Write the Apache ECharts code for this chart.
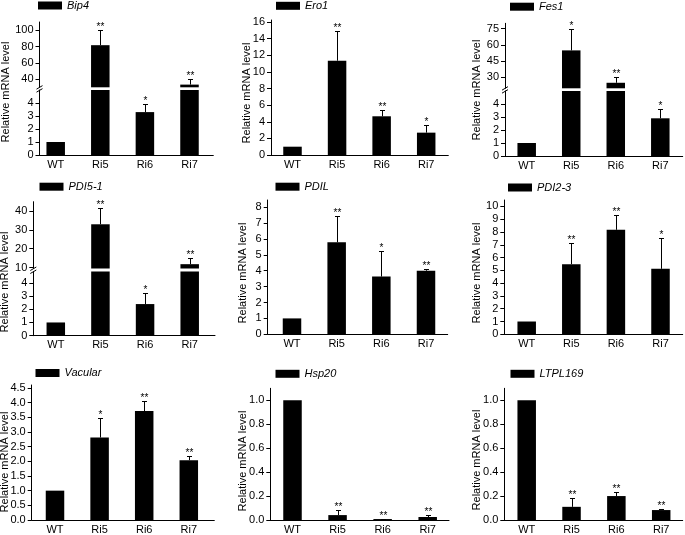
<!DOCTYPE html>
<html><head><meta charset="utf-8">
<script src="https://cdn.jsdelivr.net/npm/echarts@6/dist/echarts.min.js"></script>
<style>html,body{margin:0;padding:0;background:#fff}#c{width:685px;height:535px}</style>
</head><body><div id="c"></div>
<script>
// ---------------- DATA ----------------
const categories = ['WT', 'Ri5', 'Ri6', 'Ri7'];
const yTitle = 'Relative mRNA level';

const bip4Mean = [1, 81.6, 3.3, 33.3];
const bip4Sd   = [0, 18.4, 0.6, 7.4];
const bip4Sig  = ['', '**', '*', '**'];
const bip4UpperTicks = [40, 60, 80, 100];
const bip4LowerTicks = [0, 1, 2, 3, 4];

const ero1Mean = [1, 11.35, 4.66, 2.69];
const ero1Sd   = [0, 3.6, 0.7, 0.9];
const ero1Sig  = ['', '**', '**', '*'];
const ero1Ticks = [0, 2, 4, 6, 8, 10, 12, 14, 16];

const fes1Mean = [1, 55, 25.1, 2.9];
const fes1Sd   = [0, 20, 5.5, 0.7];
const fes1Sig  = ['', '*', '**', '*'];
const fes1UpperTicks = [30, 45, 60, 75];
const fes1LowerTicks = [0, 1, 2, 3, 4];

const pdi51Mean = [1, 33, 2.39, 11.8];
const pdi51Sd   = [0, 8.4, 0.8, 3.2];
const pdi51Sig  = ['', '**', '*', '**'];
const pdi51UpperTicks = [10, 20, 30, 40];
const pdi51LowerTicks = [0, 1, 2, 3, 4];

const pdilMean = [1, 5.79, 3.63, 4.0];
const pdilSd   = [0, 1.65, 1.61, 0.09];
const pdilSig  = ['', '**', '*', '**'];
const pdilTicks = [0, 1, 2, 3, 4, 5, 6, 7, 8];

const pdi23Mean = [1, 5.48, 8.17, 5.12];
const pdi23Sd   = [0, 1.65, 1.18, 2.4];
const pdi23Sig  = ['', '**', '**', '*'];
const pdi23Ticks = [0, 1, 2, 3, 4, 5, 6, 7, 8, 9, 10];

const vacMean = [1, 2.81, 3.71, 2.04];
const vacSd   = [0, 0.68, 0.36, 0.13];
const vacSig  = ['', '*', '**', '**'];
const vacTicks = [0, 0.5, 1, 1.5, 2, 2.5, 3, 3.5, 4, 4.5];

const hspMean = [1, 0.041, 0.008, 0.025];
const hspSd   = [0, 0.042, 0.003, 0.019];
const hspSig  = ['', '**', '**', '**'];
const hspTicks = [0, 0.2, 0.4, 0.6, 0.8, 1.0];

const ltplMean = [1, 0.11, 0.2, 0.083];
const ltplSd   = [0, 0.07, 0.035, 0.006];
const ltplSig  = ['', '**', '**', '**'];
const ltplTicks = [0, 0.2, 0.4, 0.6, 0.8, 1.0];

// ---------------- LAYOUT ----------------
const FONT = "'Liberation Sans', Arial, Helvetica, sans-serif";
const panels = [
  {gene:'Bip4', mean:bip4Mean, sd:bip4Sd, sig:bip4Sig, dec:0, L:39.5, R:213.3, c1:55.7, c4:189.5,
   segs:[{top:22, bottom:87.3, min:30, max:110, ticks:bip4UpperTicks},
         {top:90, bottom:155, min:0, max:5, ticks:bip4LowerTicks}],
   lx:38, ly:5.5, tx:6, ty:92},
  {gene:'Ero1', mean:ero1Mean, sd:ero1Sd, sig:ero1Sig, dec:0, L:271, R:448.3, c1:292.5, c4:426.2,
   segs:[{top:20, bottom:155, min:0, max:16.25, ticks:ero1Ticks}],
   lx:276, ly:5.8, tx:246.5, ty:93},
  {gene:'Fes1', mean:fes1Mean, sd:fes1Sd, sig:fes1Sig, dec:0, L:505, R:682.7, c1:526.7, c4:660.3,
   segs:[{top:23.3, bottom:88.3, min:20, max:80, ticks:fes1UpperTicks},
         {top:91, bottom:156, min:0, max:5, ticks:fes1LowerTicks}],
   lx:510, ly:6.7, tx:477, ty:90},
  {gene:'PDI5-1', mean:pdi51Mean, sd:pdi51Sd, sig:pdi51Sig, dec:0, L:33.3, R:215, c1:55.8, c4:189.7,
   segs:[{top:201.7, bottom:268.5, min:9.5, max:45, ticks:pdi51UpperTicks},
         {top:271.5, bottom:335.7, min:0, max:4.85, ticks:pdi51LowerTicks}],
   lx:39.5, ly:186.7, tx:5, ty:282},
  {gene:'PDIL', mean:pdilMean, sd:pdilSd, sig:pdilSig, dec:0, L:267.7, R:447.7, c1:292, c4:426,
   segs:[{top:200, bottom:334.3, min:0, max:8.45, ticks:pdilTicks}],
   lx:275.5, ly:186.7, tx:243, ty:273},
  {gene:'PDI2-3', mean:pdi23Mean, sd:pdi23Sd, sig:pdi23Sig, dec:0, L:504.3, R:682.7, c1:526.7, c4:660.5,
   segs:[{top:200, bottom:334.3, min:0, max:10.5, ticks:pdi23Ticks}],
   lx:508, ly:187.5, tx:477, ty:273},
  {gene:'Vacular', mean:vacMean, sd:vacSd, sig:vacSig, dec:1, L:31.7, R:214.3, c1:55, c4:188.8,
   segs:[{top:385, bottom:521.7, min:0, max:4.6, ticks:vacTicks}],
   lx:35.5, ly:373, tx:5, ty:462},
  {gene:'Hsp20', mean:hspMean, sd:hspSd, sig:hspSig, dec:1, L:270.3, R:449, c1:292.5, c4:427.7,
   segs:[{top:388.3, bottom:521.7, min:0, max:1.1, ticks:hspTicks}],
   lx:275.5, ly:373.8, tx:243, ty:461},
  {gene:'LTPL169', mean:ltplMean, sd:ltplSd, sig:ltplSig, dec:1, L:504.3, R:682.7, c1:526.7, c4:661.2,
   segs:[{top:388.3, bottom:521.7, min:0, max:1.1, ticks:ltplTicks}],
   lx:510.5, ly:373.8, tx:477, ty:460}
];

const grid = [], xAxis = [], yAxis = [], series = [], legend = [], graphic = [];
const BAR_W = 18.5, CAP = 2.5;

panels.forEach(p => {
  const s = (p.c4 - p.c1) / (categories.length - 1);
  const xMin = 1 - (p.c1 - p.L) / s;
  const xMax = categories.length + (p.R - p.c4) / s;
  const catIdx = categories.map((c, i) => i + 1);

  p.segs.forEach((seg, k) => {
    const gi = grid.length;
    const isLast = k === p.segs.length - 1;
    grid.push({left: p.L, top: seg.top, width: p.R - p.L, height: seg.bottom - seg.top, containLabel: false});
    xAxis.push({
      type: 'value', gridIndex: gi, min: xMin, max: xMax, show: isLast,
      axisLine: {show: true, lineStyle: {color: '#000', width: 1}},
      axisTick: {show: false}, splitLine: {show: false},
      axisLabel: {customValues: catIdx, formatter: v => categories[Math.round(v) - 1] || '',
                  color: '#000', fontSize: 11, fontFamily: FONT, margin: 4}
    });
    yAxis.push({
      type: 'value', gridIndex: gi, min: seg.min, max: seg.max,
      axisLine: {show: true, lineStyle: {color: '#000', width: 1}},
      axisTick: {show: true, length: 4, customValues: seg.ticks, lineStyle: {color: '#000'}},
      splitLine: {show: false},
      axisLabel: {customValues: seg.ticks, formatter: v => Number(v).toFixed(p.dec),
                  color: '#000', fontSize: 11, fontFamily: FONT, margin: 6}
    });
    series.push({
      type: 'bar', name: p.gene, xAxisIndex: gi, yAxisIndex: gi, barWidth: BAR_W, clip: true,
      itemStyle: {color: '#000'}, silent: true, animation: false,
      data: p.mean.map((v, i) => [i + 1, v])
    });
    // error bars & significance marks for the bars whose top lies in this segment
    const items = [];
    p.mean.forEach((v, i) => {
      if (v >= seg.min && v <= seg.max && (p.sd[i] > 0 || p.sig[i])) items.push({i, v, t: v + p.sd[i]});
    });
    series.push({
      type: 'custom', name: p.gene + ' err', xAxisIndex: gi, yAxisIndex: gi, silent: true, animation: false,
      data: items.map(it => [it.i + 1, it.v, it.t]),
      renderItem: (params, api) => {
        const it = items[params.dataIndex];
        const a = api.coord([api.value(0), api.value(1)]);
        const b = api.coord([api.value(0), api.value(2)]);
        const x = Math.round(a[0]) + 0.5;
        const yt = Math.round(b[1]) + 0.5;
        const ch = [];
        if (api.value(2) > api.value(1)) {
          ch.push({type: 'line', shape: {x1: x, y1: a[1], x2: x, y2: yt}, style: {stroke: '#000', lineWidth: 1}});
          ch.push({type: 'line', shape: {x1: x - CAP, y1: yt, x2: x + CAP, y2: yt}, style: {stroke: '#000', lineWidth: 1}});
        }
        ch.push({type: 'text', x: x, y: yt - 3,
                 style: {text: p.sig[it.i], fill: '#000', fontSize: 10, fontFamily: FONT,
                         align: 'center', verticalAlign: 'middle', textAlign: 'center', textVerticalAlign: 'middle'}});
        return {type: 'group', children: ch};
      }
    });
  });

  legend.push({
    data: [{name: p.gene, icon: 'rect'}], left: p.lx, top: p.ly - 5.5, padding: 0,
    itemWidth: 24, itemHeight: 8, selectedMode: false,
    textStyle: {fontStyle: 'italic', fontSize: 11, color: '#000', fontFamily: FONT}
  });

  graphic.push({
    type: 'text', x: p.tx, y: p.ty, rotation: Math.PI / 2, silent: true,
    style: {text: yTitle, fill: '#000', fontSize: 11, fontFamily: FONT,
            align: 'center', verticalAlign: 'middle', textAlign: 'center', textVerticalAlign: 'middle'}
  });

  if (p.segs.length > 1) {
    const yc = (p.segs[0].bottom + p.segs[1].top) / 2;
    const x = p.L;
    graphic.push({type: 'line', silent: true, shape: {x1: x - 3, y1: yc + 0.5, x2: x + 3, y2: yc - 3},
                  style: {stroke: '#000', lineWidth: 1}});
    graphic.push({type: 'line', silent: true, shape: {x1: x - 3, y1: yc + 3.5, x2: x + 3, y2: yc},
                  style: {stroke: '#000', lineWidth: 1}});
  }
});

const chart = echarts.init(document.getElementById('c'), null, {renderer: 'canvas'});
chart.setOption({
  backgroundColor: '#fff',
  animation: false,
  textStyle: {fontFamily: FONT},
  grid, xAxis, yAxis, series, legend, graphic
});
</script>
</body></html>
